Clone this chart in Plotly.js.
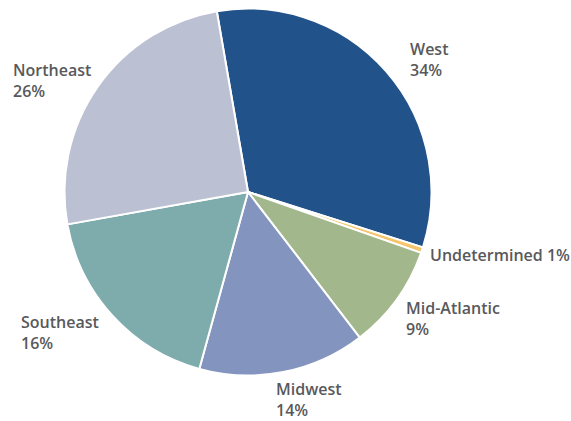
<!DOCTYPE html>
<html>
<head>
<meta charset="utf-8">
<script src="https://cdn.plot.ly/plotly-3.0.1.min.js"></script>
<style>html,body{margin:0;padding:0;background:#fff;}#chart{width:571px;height:421px;}</style>
</head>
<body>
<div id="chart"></div>
<script>
// Data (slice shares, printed labels as shown)
const regions = ["West", "Undetermined", "Mid-Atlantic", "Midwest", "Southeast", "Northeast"];
const shares = [32.6, 0.5, 9.2, 14.7, 17.9, 25.1];
const printedPct = ["34%", "1%", "9%", "14%", "16%", "26%"];
const colors = ["#22528a", "#f6c56b", "#a3b78c", "#8394bf", "#7eabab", "#bcc0d3"];

// label placement (paper coords) – layout only
const labelPos = [
  {x: 409, y: 59, single: false},
  {x: 429, y: 255, single: true},
  {x: 405, y: 318, single: false},
  {x: 275, y: 399, single: false},
  {x: 20, y: 332, single: false},
  {x: 12, y: 81, single: false}
];
const W = 571, H = 421;

const annotations = regions.map((r, i) => ({
  text: labelPos[i].single ? r + " " + printedPct[i] : r + "<br>" + printedPct[i],
  x: labelPos[i].x / W, y: 1 - labelPos[i].y / H,
  xref: "paper", yref: "paper",
  xanchor: "left", yanchor: "middle", align: "left",
  showarrow: false, borderpad: 0,
  font: {family: "Open Sans", size: 16, color: "#58595b", weight: 600}
}));

const cx = 248, cy = 192, rad = 183.5;
const trace = {
  type: "pie",
  labels: regions,
  values: shares,
  sort: false,
  direction: "clockwise",
  rotation: -9.8,
  textinfo: "none",
  hoverinfo: "label+percent",
  marker: {colors: colors, line: {color: "#ffffff", width: 2}},
  domain: {x: [(cx - rad) / W, (cx + rad) / W], y: [1 - (cy + rad) / H, 1 - (cy - rad) / H]}
};

Plotly.newPlot("chart", [trace], {
  width: W, height: H,
  margin: {l: 0, r: 0, t: 0, b: 0},
  showlegend: false,
  paper_bgcolor: "#ffffff",
  annotations: annotations
}, {displayModeBar: false, staticPlot: true});
</script>
</body>
</html>
